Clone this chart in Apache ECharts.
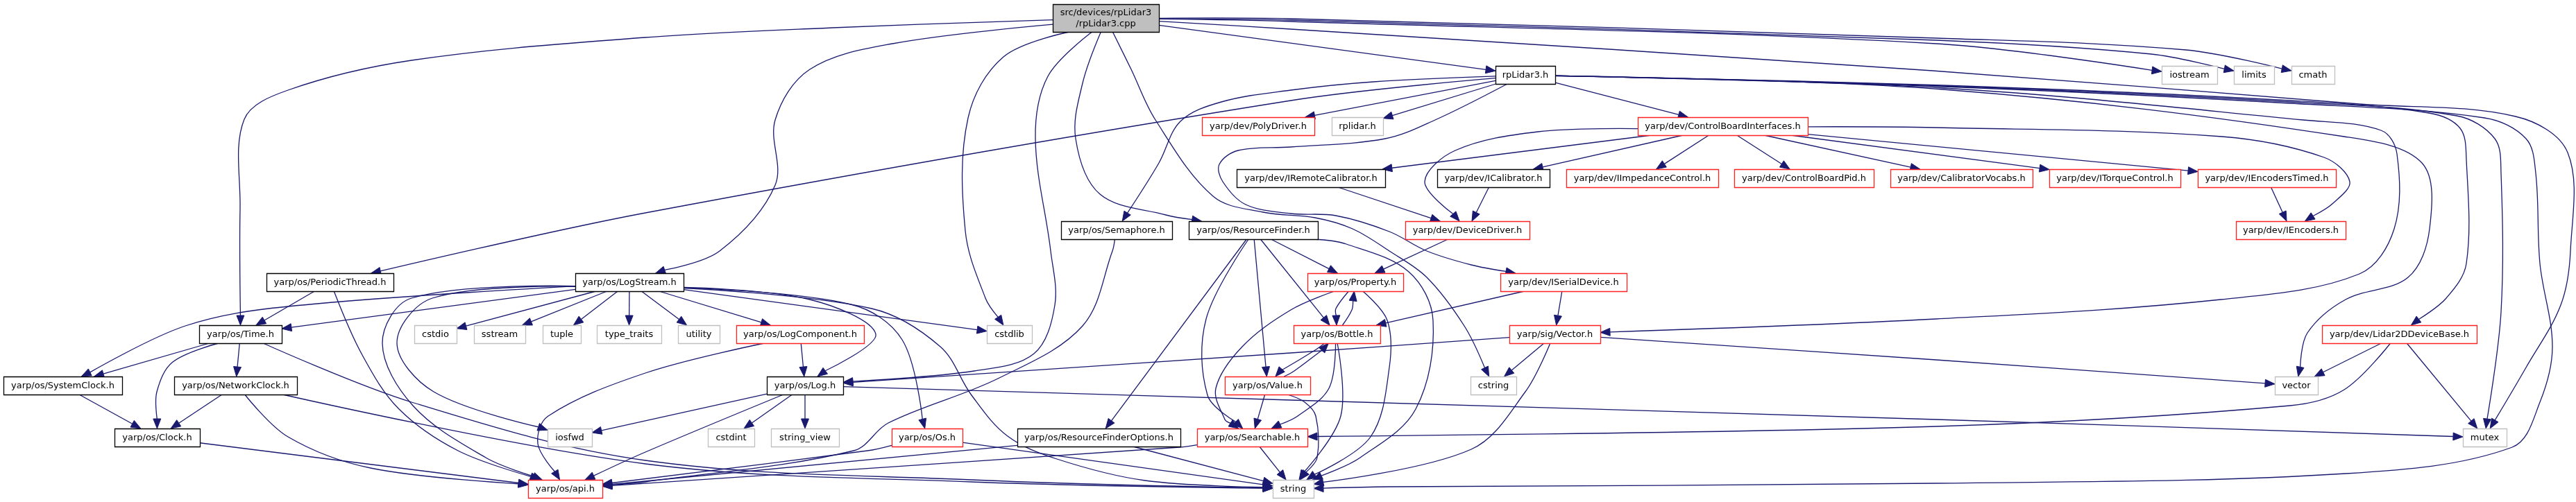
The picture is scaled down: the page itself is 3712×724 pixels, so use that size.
<!DOCTYPE html>
<html><head><meta charset="utf-8">
<script src="https://cdn.jsdelivr.net/npm/echarts@6/dist/echarts.min.js"></script>
<style>html,body{margin:0;padding:0;background:#fff}#c{width:3712px;height:724px}</style>
</head><body><div id="c"></div>
<script>
// ---- nodes (header files) ----
const nodeNames = [
 'src/devices/rpLidar3\n/rpLidar3.cpp','rpLidar3.h','iostream','limits','cmath',
 'yarp/dev/PolyDriver.h','rplidar.h','yarp/dev/ControlBoardInterfaces.h',
 'yarp/dev/IRemoteCalibrator.h','yarp/dev/ICalibrator.h','yarp/dev/IImpedanceControl.h','yarp/dev/ControlBoardPid.h','yarp/dev/CalibratorVocabs.h','yarp/dev/ITorqueControl.h','yarp/dev/IEncodersTimed.h',
 'yarp/os/Semaphore.h','yarp/os/ResourceFinder.h','yarp/dev/DeviceDriver.h','yarp/dev/IEncoders.h',
 'yarp/os/PeriodicThread.h','yarp/os/LogStream.h','yarp/os/Property.h','yarp/dev/ISerialDevice.h',
 'yarp/os/Time.h','cstdio','sstream','tuple','type_traits','utility','yarp/os/LogComponent.h','cstdlib','yarp/os/Bottle.h','yarp/sig/Vector.h','yarp/dev/Lidar2DDeviceBase.h',
 'yarp/os/SystemClock.h','yarp/os/NetworkClock.h','yarp/os/Log.h','yarp/os/Value.h','cstring','vector',
 'yarp/os/Clock.h','iosfwd','cstdint','string_view','yarp/os/Os.h','yarp/os/ResourceFinderOptions.h','yarp/os/Searchable.h','mutex',
 'yarp/os/api.h','string'];
const nodeRank = [0,1,1,1,1,2,2,2,3,3,3,3,3,3,3,4,4,4,4,5,5,5,5,6,6,6,6,6,6,6,6,6,6,6,7,7,7,7,7,7,8,8,8,8,8,8,8,8,9,9];
const nodeLeft = [1517,2155,3115,3219,3302, 1732,1919,2360, 1782,2071,2257,2499,2724,2953,3167, 1529,1713,2025,3222, 384,829,1884,2162, 287,597,683,782,860,977,1061,1422,1864,2175,3346, 5,251,1105,1765,2119,3278, 165,789,1020,1111,1285,1466,1725,3549, 761,1834];
const nodeRight = [1670,2241,3195,3277,3364, 1894,1993,2605, 1996,2233,2476,2700,2929,3142,3366, 1689,1899,2204,3380, 567,985,2022,2344, 406,658,757,837,953,1037,1245,1487,1989,2306,3569, 176,428,1215,1888,2185,3340, 288,853,1087,1209,1387,1701,1884,3612, 868,1893];
const nodeKind = ['main','doc','ext','ext','ext', 'trunc','ext','trunc', 'doc','doc','trunc','trunc','trunc','trunc','trunc', 'doc','doc','trunc','trunc', 'doc','doc','trunc','trunc', 'doc','ext','ext','ext','ext','ext','trunc','ext','trunc','trunc','trunc', 'doc','doc','doc','trunc','ext','ext', 'doc','ext','ext','ext','trunc','doc','trunc','ext', 'trunc','ext'];

// ---- include edges ----
const edgeList = [
 ['rpLidar3.cpp','rpLidar3.h'],['rpLidar3.cpp','Time.h'],['rpLidar3.cpp','LogStream.h'],['rpLidar3.cpp','cstdlib'],
 ['rpLidar3.cpp','Log.h'],['rpLidar3.cpp','ResourceFinder.h'],['rpLidar3.cpp','cstring'],['rpLidar3.cpp','iostream'],
 ['rpLidar3.cpp','limits'],['rpLidar3.cpp','cmath'],['rpLidar3.cpp','mutex'],
 ['rpLidar3.h','PeriodicThread.h'],['rpLidar3.h','Semaphore.h'],['rpLidar3.h','PolyDriver.h'],['rpLidar3.h','rplidar.h'],
 ['rpLidar3.h','ISerialDevice.h'],['rpLidar3.h','ControlBoardInterfaces.h'],['rpLidar3.h','Vector.h'],['rpLidar3.h','vector'],
 ['rpLidar3.h','Lidar2DDeviceBase.h'],['rpLidar3.h','mutex'],['rpLidar3.h','string'],
 ['ControlBoardInterfaces.h','DeviceDriver.h'],['ControlBoardInterfaces.h','IRemoteCalibrator.h'],['ControlBoardInterfaces.h','ICalibrator.h'],
 ['ControlBoardInterfaces.h','IImpedanceControl.h'],['ControlBoardInterfaces.h','ControlBoardPid.h'],['ControlBoardInterfaces.h','CalibratorVocabs.h'],
 ['ControlBoardInterfaces.h','ITorqueControl.h'],['ControlBoardInterfaces.h','IEncodersTimed.h'],['ControlBoardInterfaces.h','IEncoders.h'],
 ['IRemoteCalibrator.h','DeviceDriver.h'],['ICalibrator.h','DeviceDriver.h'],['IEncodersTimed.h','IEncoders.h'],['DeviceDriver.h','Property.h'],
 ['PeriodicThread.h','Time.h'],['PeriodicThread.h','api.h'],['Semaphore.h','api.h'],
 ['ResourceFinder.h','Property.h'],['ResourceFinder.h','Bottle.h'],['ResourceFinder.h','Value.h'],['ResourceFinder.h','Searchable.h'],
 ['ResourceFinder.h','ResourceFinderOptions.h'],['ResourceFinder.h','string'],
 ['LogStream.h','Time.h'],['LogStream.h','SystemClock.h'],['LogStream.h','api.h'],['LogStream.h','iosfwd'],['LogStream.h','cstdio'],
 ['LogStream.h','sstream'],['LogStream.h','tuple'],['LogStream.h','type_traits'],['LogStream.h','utility'],['LogStream.h','LogComponent.h'],
 ['LogStream.h','Log.h'],['LogStream.h','Os.h'],['LogStream.h','string'],['LogStream.h','cstdlib'],
 ['Property.h','Bottle.h'],['Property.h','Searchable.h'],['Property.h','string'],
 ['ISerialDevice.h','Bottle.h'],['ISerialDevice.h','Vector.h'],
 ['Time.h','SystemClock.h'],['Time.h','NetworkClock.h'],['Time.h','Clock.h'],['Time.h','string'],
 ['LogComponent.h','Log.h'],['LogComponent.h','api.h'],
 ['Bottle.h','Property.h'],['Bottle.h','Value.h'],['Bottle.h','Searchable.h'],['Bottle.h','string'],
 ['Vector.h','Log.h'],['Vector.h','cstring'],['Vector.h','vector'],['Vector.h','string'],
 ['Lidar2DDeviceBase.h','vector'],['Lidar2DDeviceBase.h','mutex'],['Lidar2DDeviceBase.h','Searchable.h'],
 ['SystemClock.h','Clock.h'],['NetworkClock.h','Clock.h'],['NetworkClock.h','api.h'],['NetworkClock.h','string'],
 ['Log.h','iosfwd'],['Log.h','api.h'],['Log.h','cstdint'],['Log.h','string_view'],['Log.h','mutex'],
 ['Value.h','Bottle.h'],['Value.h','Searchable.h'],['Value.h','string'],
 ['Clock.h','api.h'],['Os.h','api.h'],['Os.h','string'],
 ['ResourceFinderOptions.h','api.h'],['ResourceFinderOptions.h','string'],
 ['Searchable.h','api.h'],['Searchable.h','string']
];

// ---- edge routing (spline waypoints, diagram layout) ----
const edgeRoutes = {
 'rpLidar3.cpp>Time.h': [[1200,40],[930,54],[593,87],[415,130],[352,172],[346,300]],
 'rpLidar3.cpp>LogStream.h': [[1286,63],[1167,100],[1117,173],[1117,267],[1037,362]],
 'rpLidar3.cpp>cstdlib': [[1446,82],[1395,170],[1391,333],[1420,430]],
 'rpLidar3.cpp>Log.h': [[1510,110],[1492,200],[1514,362],[1520,440],[1490,510],[1404,535]],
 'rpLidar3.cpp>ResourceFinder.h': [[1560,120],[1550,200],[1585,280],[1680,310]],
 'rpLidar3.cpp>cstring': [[1630,100],[1665,173],[1748,283],[1820,306],[1895,314],[1949,330],[2002,362],[2056,400],[2110,470]],
 'rpLidar3.cpp>iostream': [[1860,31],[2790,63]],
 'rpLidar3.cpp>limits': [[1860,29],[2790,58],[3100,78]],
 'rpLidar3.cpp>cmath': [[1860,27],[2790,55],[3150,72]],
 'rpLidar3.cpp>mutex': [[1860,42],[2785,102],[3400,150],[3625,168],[3700,220],[3704,362],[3690,440],[3640,530]],
 'rpLidar3.h>PeriodicThread.h': [[1860,145],[930,307]],
 'rpLidar3.h>Semaphore.h': [[1979,118],[1860,130],[1760,147],[1701,175],[1670,235]],
 'rpLidar3.h>ISerialDevice.h': [[2068,173],[1996,200],[1860,212],[1784,217],[1757,237],[1762,262],[1795,295],[1860,308],[1925,311],[2002,334],[2056,362],[2120,382]],
 'rpLidar3.h>Vector.h': [[2800,127],[3319,173],[3431,188],[3454,222],[3450,330],[3400,395],[3200,432],[2790,460]],
 'rpLidar3.h>vector': [[2800,129],[3378,197],[3490,235],[3501,330],[3470,400],[3380,432],[3325,480]],
 'rpLidar3.h>Lidar2DDeviceBase.h': [[2800,123],[3300,145],[3500,163],[3545,185],[3554,230],[3554,380],[3525,430]],
 'rpLidar3.h>mutex': [[2800,124],[3300,147],[3540,167],[3595,200],[3604,250],[3604,450]],
 'rpLidar3.h>string': [[2800,125],[3300,149],[3580,170],[3640,200],[3654,250],[3660,380],[3678,500],[3660,580],[3620,645],[3380,683],[2790,697],[2000,702]],
 'ControlBoardInterfaces.h>DeviceDriver.h': [[2216,190],[2097,217],[2053,262]],
 'ControlBoardInterfaces.h>IEncoders.h': [[2790,184],[3202,197],[3349,227],[3386,262],[3362,293]],
 'PeriodicThread.h>api.h': [[522,512],[575,590],[660,650]],
 'Semaphore.h>api.h': [[1603,362],[1560,470],[1440,545],[1280,610],[1230,650],[930,695]],
 'ResourceFinder.h>Searchable.h': [[1738,460],[1740,570]],
 'ResourceFinder.h>string': [[1940,352],[2030,392],[2065,462],[2040,590],[1960,660]],
 'LogStream.h>SystemClock.h': [[415,442],[267,470]],
 'LogStream.h>api.h': [[593,430],[551,495],[595,585],[700,660]],
 'LogStream.h>iosfwd': [[623,430],[572,495],[625,565]],
 'LogStream.h>Log.h': [[1167,432],[1262,482]],
 'LogStream.h>Os.h': [[1226,439],[1300,490]],
 'LogStream.h>string': [[1256,445],[1355,500],[1400,570],[1452,629],[1523,662],[1650,693]],
 'Property.h>Bottle.h': [[1925,445]],
 'Property.h>Searchable.h': [[1860,447],[1790,500],[1752,560],[1765,605]],
 'Property.h>string': [[1999,462],[2002,530],[1975,630]],
 'Bottle.h>Property.h': [[1948,447]],
 'Bottle.h>Value.h': [[1895,505],[1845,535]],
 'Bottle.h>Searchable.h': [[1915,560],[1870,600]],
 'Bottle.h>string': [[1932,600]],
 'Value.h>Bottle.h': [[1865,535],[1905,505]],
 'Value.h>string': [[1880,580],[1896,600],[1898,660]],
 'Time.h>Clock.h': [[249,522],[226,565]],
 'Time.h>string': [[593,580],[930,664],[1400,692]],
 'NetworkClock.h>api.h': [[415,630],[534,675]],
 'NetworkClock.h>string': [[930,669],[1400,695]],
 'LogComponent.h>api.h': [[930,538],[790,600],[775,640]],
 'Log.h>api.h': [[930,652]],
 'Log.h>mutex': [[1860,577],[2790,605]],
 'Vector.h>Log.h': [[1860,509]],
 'Vector.h>vector': [[2790,519]],
 'Vector.h>string': [[2198,565],[2120,648]],
 'Lidar2DDeviceBase.h>Searchable.h': [[3378,562],[3300,585],[2790,615]],
 'Os.h>api.h': [[1250,650]],
 'Searchable.h>api.h': [[1700,645]]
};

// ---- layout / style ----
const rowTop = [6,95,169,244,319,394,469,543,618,692];
const rowHeight = [40,26,26,26,26,26,26,26,26,26];
const EDGE = '#191970';
const ARROW_LEN = 14, ARROW_HALF = 5.5;
const kindStroke = {main:'#000000', doc:'#000000', trunc:'#ff2020', ext:'#bfbfbf'};
const kindFill = {main:'#bfbfbf', doc:'#ffffff', trunc:'#ffffff', ext:'#ffffff'};

const keyOf = n => n.split('/').pop();
const nodeIndex = {};
nodeNames.forEach((n,i) => { nodeIndex[keyOf(n)] = i; });

function boxPx(api, i) {
  const r = nodeRank[i];
  const a = api.coord([nodeLeft[i], rowTop[r]]);
  const b = api.coord([nodeRight[i], rowTop[r] + rowHeight[r]]);
  const x1 = Math.min(a[0], b[0]), x2 = Math.max(a[0], b[0]);
  const y1 = Math.min(a[1], b[1]), y2 = Math.max(a[1], b[1]);
  return {x1, x2, y1, y2, cx: (x1 + x2) / 2, cy: (y1 + y2) / 2};
}
function clip(b, p) {
  const dx = p[0] - b.cx, dy = p[1] - b.cy;
  let t = Infinity;
  if (dx > 0) t = Math.min(t, (b.x2 - b.cx) / dx);
  if (dx < 0) t = Math.min(t, (b.x1 - b.cx) / dx);
  if (dy > 0) t = Math.min(t, (b.y2 - b.cy) / dy);
  if (dy < 0) t = Math.min(t, (b.y1 - b.cy) / dy);
  if (!isFinite(t)) t = 0;
  return [b.cx + dx * t, b.cy + dy * t];
}

function renderEdge(params, api) {
  const e = edgeList[params.dataIndex];
  const s = boxPx(api, nodeIndex[e[0]]);
  const t = boxPx(api, nodeIndex[e[1]]);
  const via = (edgeRoutes[e[0] + '>' + e[1]] || []).map(p => api.coord(p));
  const first = via.length ? via[0] : [t.cx, t.cy];
  const last = via.length ? via[via.length - 1] : [s.cx, s.cy];
  const p0 = clip(s, first);
  const tip = clip(t, last);
  const dx = tip[0] - last[0], dy = tip[1] - last[1];
  const len = Math.hypot(dx, dy) || 1;
  const ux = dx / len, uy = dy / len;
  const base = [tip[0] - ux * ARROW_LEN, tip[1] - uy * ARROW_LEN];
  const pts = [p0].concat(via, [base]);
  return {
    type: 'group',
    children: [
      {type: 'polyline', shape: {points: pts, smooth: via.length ? 0.35 : 0},
       style: {stroke: EDGE, lineWidth: 1.3, fill: null}},
      {type: 'polygon', shape: {points: [tip,
          [base[0] - uy * ARROW_HALF, base[1] + ux * ARROW_HALF],
          [base[0] + uy * ARROW_HALF, base[1] - ux * ARROW_HALF]]},
       style: {fill: EDGE, stroke: EDGE, lineWidth: 1}}
    ]
  };
}

function renderNode(params, api) {
  const i = params.dataIndex;
  const b = boxPx(api, i);
  const k = nodeKind[i];
  return {
    type: 'group',
    children: [
      {type: 'rect', shape: {x: Math.round(b.x1) + 0.5, y: Math.round(b.y1) + 0.5,
         width: Math.round(b.x2 - b.x1), height: Math.round(b.y2 - b.y1)},
       style: {fill: kindFill[k], stroke: kindStroke[k], lineWidth: 1.3}},
      {type: 'text', style: {text: nodeNames[i], x: b.cx, y: b.cy + 1, align: 'center', verticalAlign: 'middle',
         font: '13px "DejaVu Sans"', fill: '#000', lineHeight: 16}}
    ]
  };
}

const chart = echarts.init(document.getElementById('c'), null, {renderer: 'canvas'});
chart.setOption({
  backgroundColor: '#ffffff',
  animation: false,
  grid: {left: 0, right: 0, top: 0, bottom: 0},
  xAxis: {type: 'value', min: 0, max: 3712, show: false},
  yAxis: {type: 'value', min: 0, max: 724, inverse: true, show: false},
  series: [
    {type: 'custom', coordinateSystem: 'cartesian2d', clip: false, silent: true, z: 1,
     data: edgeList.map((e, i) => [i, 0]), renderItem: renderEdge},
    {type: 'custom', coordinateSystem: 'cartesian2d', clip: false, silent: true, z: 2,
     data: nodeNames.map((n, i) => [(nodeLeft[i] + nodeRight[i]) / 2, rowTop[nodeRank[i]]]), renderItem: renderNode}
  ]
});
</script>
</body></html>
